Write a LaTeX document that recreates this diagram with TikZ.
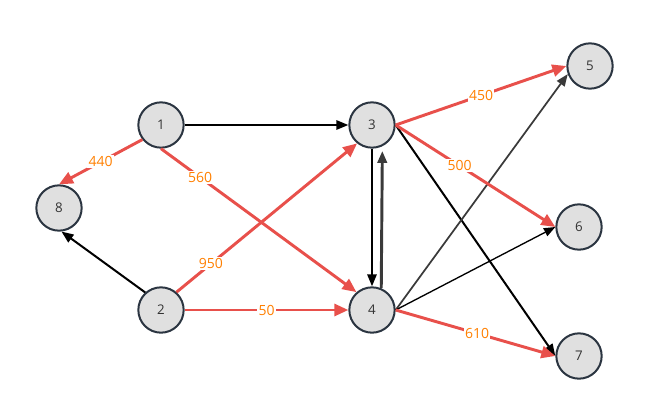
\documentclass[tikz,border=0pt]{standalone}
\usepackage{fontspec}
\setmainfont{Open Sans}
\usetikzlibrary{arrows.meta}
\definecolor{edgered}{HTML}{E8504B}
\definecolor{lblorange}{HTML}{FF8000}
\definecolor{nodeborder}{HTML}{2B3541}
\definecolor{nodefill}{HTML}{E0E0E0}
\definecolor{txt}{HTML}{333333}
\definecolor{greyedge}{HTML}{3A3A3A}
\begin{document}
\begin{tikzpicture}[x=0.75pt,y=-0.75pt,
 vert/.style={circle,draw=nodeborder,fill=nodefill,line width=1.5pt,minimum size=34pt,inner sep=0pt,text=txt,font=\fontsize{10}{12}\selectfont},
 redge/.style={draw=edgered,line width=2.2pt,-{Triangle[length=10.5pt,width=9pt]}},
 bedge/.style={draw=black,line width=1.5pt,-{Triangle[length=9pt,width=7pt]}},
 gedge/.style={draw=greyedge,line width=1.3pt,-{Triangle[length=9pt,width=7pt]}},
 thinedge/.style={draw=black,line width=1pt,-{Triangle[length=8.5pt,width=6.5pt]}},
 lbl/.style={fill=white,text=lblorange,inner sep=1pt,font=\fontsize{10.5}{12}\selectfont},
]
\useasboundingbox (0,0) rectangle (652,407);
\node[vert] (n1) at (161,125) {1};
\node[vert] (n8) at (59,208) {8};
\node[vert] (n2) at (161,310) {2};
\node[vert] (n3) at (372,125) {3};
\node[vert] (n4) at (372,310) {4};
\node[vert] (n5) at (590,66) {5};
\node[vert] (n6) at (579,227) {6};
\node[vert] (n7) at (579,356) {7};

\draw[bedge] (n1.east) -- (n3.west);
\draw[bedge] (n2.132) -- (n8.-84);
\draw[bedge] (n3.east) -- (n7.west);
\draw[bedge] (n3.south) -- (n4.north);
\draw[gedge,line width=2.2pt,shorten >=3.5pt] (n4.67) -- (n3.-64);
\draw[gedge] (n4.east) -- (n5.200);
\draw[thinedge] (n4.east) -- (n6.west);

\draw[redge] (n1.218) -- node[lbl,pos=0.5] (l440) {440} (n8.north);
\draw[redge] (n1.south) -- node[lbl,pos=0.2] (l560) {560} (n4.131);
\draw[redge] (n2.49) -- node[lbl,pos=0.19] (l950) {950} (n3.231);
\draw[redge] (n2.east) -- node[lbl,pos=0.5] (l50) {50} (n4.west);
\draw[redge] (n3.east) -- node[lbl,pos=0.5] (l450) {450} (n5.west);
\draw[redge] (n3.east) -- node[lbl,pos=0.4] (l500) {500} (n6.west);
\draw[redge] (n4.east) -- node[lbl,pos=0.51] (l610) {610} (n7.west);
\end{tikzpicture}
\end{document}
